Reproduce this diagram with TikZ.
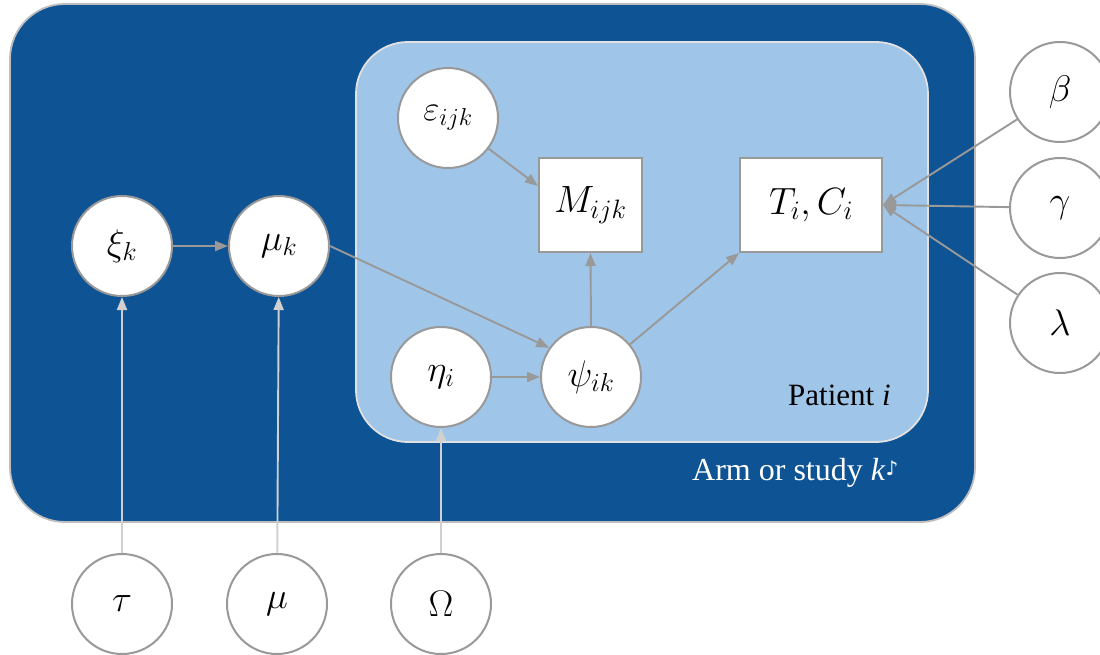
\RequirePackage{fix-cm}
\documentclass[tikz,border=0pt]{standalone}
\usepackage{fontspec}
\setmainfont{Liberation Serif}
\newfontfamily\symfont{DejaVu Sans}
\usetikzlibrary{arrows.meta}
\definecolor{armblue}{RGB}{14,83,148}
\definecolor{patblue}{RGB}{159,197,232}
\definecolor{edgegray}{RGB}{153,153,153}
\definecolor{lightedge}{RGB}{208,208,208}
\definecolor{armborder}{RGB}{190,190,190}
\definecolor{patborder}{RGB}{225,225,225}
\tikzset{
  var/.style={circle,draw=edgegray,line width=2pt,fill=white,minimum size=100pt,inner sep=0pt,font=\fontsize{37}{40}\selectfont},
  obs/.style={rectangle,draw=edgegray,line width=2pt,fill=white,inner sep=0pt,font=\fontsize{38}{42}\selectfont},
  link/.style={draw=edgegray,line width=1.9pt,-{Triangle[length=13pt,width=10pt]}},
  hyper/.style={draw=lightedge,line width=1.9pt,-{Triangle[length=13pt,width=10pt]}},
}
\begin{document}
\begin{tikzpicture}[x=1pt,y=-1pt]
\clip (0,0) rectangle (1100,655);
\fill[white] (0,0) rectangle (1100,655);
% plates
\node[draw=armborder,line width=1.8pt,fill=armblue,rounded corners=55pt,
  minimum width=965pt,minimum height=518pt,inner sep=0pt] (arm) at (492.5,263) {};
\node[draw=patborder,line width=1.8pt,fill=patblue,rounded corners=52pt,
  minimum width=572pt,minimum height=400pt,inner sep=0pt] (pat) at (642,242) {};
\node[anchor=base west,text=white,font=\fontsize{32}{36}\selectfont,inner sep=0pt] (armlab) at (692,480) {Arm or study \textit{k}{\symfont\fontsize{20}{22}\selectfont\raisebox{5pt}{♪}}};
\node[anchor=base west,text=black,font=\fontsize{31}{34}\selectfont,inner sep=0pt] (patlab) at (788,405) {Patient \textit{i}};
% nodes
\node[var] (xi) at (122,246) {$\xi_k$};
\node[var] (muk) at (279,246) {$\mu_k$};
\node[var,font=\fontsize{35}{38}\selectfont] (eps) at (448,118) {$\varepsilon_{ijk}$};
\node[var] (eta) at (441,377) {$\eta_i$};
\node[var] (psi) at (591,377) {$\psi_{ik}$};
\node[obs,minimum width=103pt,minimum height=94pt] (M) at (590.5,205) {$M_{ijk}$};
\node[obs,minimum width=142pt,minimum height=94pt] (T) at (811,205) {$T_i,C_i$};
\node[var] (beta) at (1060,92) {$\beta$};
\node[var] (gamma) at (1060,208) {$\gamma$};
\node[var] (lambda) at (1060,323) {$\lambda$};
\node[var] (tau) at (122,604) {$\tau$};
\node[var] (mu) at (277,604) {$\mu$};
\node[var] (Omega) at (441,604) {$\Omega$};
% edges
\draw[link] (xi) -- (muk);
\draw[link] (muk.east) -- (psi.145);
\draw[link] (eps) -- (M.160);
\draw[link] (psi.north) -- (M.south);
\draw[link] (psi) -- (T.south west);
\draw[link] (eta) -- (psi);
\draw[link] (beta) -- (T.east);
\draw[link] (gamma) -- (T.east);
\draw[link] (lambda) -- (T.east);
\draw[hyper] (tau) -- (xi);
\draw[hyper] (mu) -- (muk);
\draw[hyper] (Omega) -- (eta);
\end{tikzpicture}
\end{document}
